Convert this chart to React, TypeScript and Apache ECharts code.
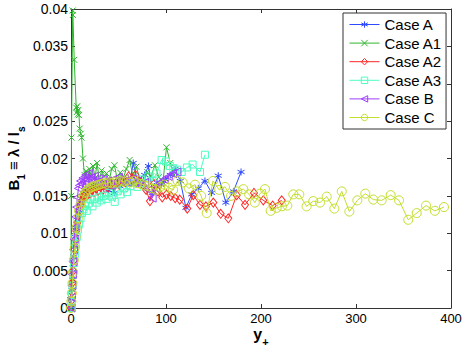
import React, { useEffect, useRef } from "react";
import * as echarts from "echarts";

const xTicks = [0, 100, 200, 300, 400];
const yTickStep = 0.005;

const caseAX = [0, 0.5, 1, 1.6, 2.3, 3, 3.8, 4.6, 5.5, 6.5, 7.5, 8.6, 9.8, 11, 12.5, 14, 15.6, 17.3, 19, 21, 23, 25, 27.2, 29.5, 32, 34.5, 37, 39.7, 42.5, 45.5, 48.5, 51.5, 55, 58.5, 62, 65.5, 69.5, 73.5, 77.5, 81.5, 86, 90.5, 95, 99.5, 104.5, 109.5, 115, 121, 127, 134, 141, 148, 155, 163, 171, 179];
const caseAY = [0, 0.0012, 0.0024, 0.0038, 0.0054, 0.0069, 0.0083, 0.0095, 0.0107, 0.0118, 0.0127, 0.0134, 0.0141, 0.0146, 0.015, 0.0154, 0.0158, 0.0155, 0.0161, 0.0158, 0.0164, 0.016, 0.0166, 0.0162, 0.0167, 0.016, 0.0165, 0.0157, 0.0168, 0.0154, 0.017, 0.0163, 0.0172, 0.0166, 0.0168, 0.0194, 0.0172, 0.0165, 0.0178, 0.019, 0.0154, 0.0168, 0.0165, 0.0172, 0.0178, 0.0186, 0.017, 0.0134, 0.0152, 0.016, 0.017, 0.0154, 0.0177, 0.0141, 0.0156, 0.0182];

const caseA1X = [0, 0.2, 0.5, 1.8, 2.0, 3.4, 5.5, 6.0, 6.6, 7.2, 7.8, 8.4, 9.2, 10.2, 11.2, 12.6, 14.2, 15.8, 17.5, 19.3, 21.2, 23.2, 25.3, 27.5, 29.8, 32.2, 34.7, 37.3, 40, 42.8, 45.7, 48.7, 51.8, 55, 58.3, 61.7, 65.2, 68.8, 72.5, 76.3, 80.2, 84.2, 88.3, 92.5, 96.8, 100.5, 104.5, 108.5];
const caseA1Y = [0, 0.015, 0.0228, 0.0398, 0.0392, 0.0332, 0.0268, 0.0262, 0.027, 0.0259, 0.0265, 0.0258, 0.024, 0.0233, 0.0228, 0.02, 0.0178, 0.0183, 0.0172, 0.0186, 0.0176, 0.019, 0.0174, 0.0194, 0.017, 0.0184, 0.0176, 0.018, 0.017, 0.0186, 0.0191, 0.0172, 0.0181, 0.0174, 0.0186, 0.0198, 0.0176, 0.0189, 0.0172, 0.0168, 0.0182, 0.0176, 0.0191, 0.0175, 0.0168, 0.0215, 0.0194, 0.0178];

const caseA2X = [0, 0.5, 1, 1.6, 2.3, 3, 3.8, 4.7, 5.6, 6.6, 7.7, 8.9, 10.2, 11.6, 13.1, 14.7, 16.4, 18.2, 20.1, 22.1, 24.2, 26.4, 28.7, 31.1, 33.6, 36.2, 38.9, 41.7, 44.6, 47.6, 50.7, 53.9, 57.2, 60.6, 64.1, 67.7, 71.4, 75.2, 79.1, 83.1, 87.2, 91.5, 96, 100.5, 105, 109.7, 114.5, 122.4, 128.7, 135.8, 142, 149.8, 157.6, 165.6, 174.4, 183.2, 192.6, 202.4, 212.3, 221.8];
const caseA2Y = [0, 0.001, 0.0021, 0.0034, 0.005, 0.0064, 0.0078, 0.0091, 0.0103, 0.0114, 0.0123, 0.0131, 0.0138, 0.0144, 0.0148, 0.0152, 0.015, 0.0156, 0.0153, 0.0158, 0.0155, 0.016, 0.0157, 0.0162, 0.0158, 0.0164, 0.0161, 0.0166, 0.0163, 0.0167, 0.0165, 0.017, 0.0168, 0.0176, 0.0172, 0.0178, 0.017, 0.0165, 0.0158, 0.0143, 0.0166, 0.0156, 0.0148, 0.0152, 0.015, 0.0147, 0.0145, 0.0133, 0.0151, 0.0138, 0.0136, 0.0141, 0.0126, 0.012, 0.0151, 0.0138, 0.0154, 0.0144, 0.0137, 0.0144];

const caseA3X = [0, 0.5, 1, 1.6, 2.3, 3.1, 4, 5, 6.1, 7.3, 8.6, 10, 11.5, 13.1, 14.8, 16.6, 18.5, 20.5, 22.6, 24.8, 27.1, 29.5, 32, 34.6, 37.3, 40.1, 43, 46, 49.1, 52.3, 55.6, 59, 62.5, 66.1, 69.8, 73.6, 77.5, 81.5, 85.6, 90, 95.4, 100, 104, 107.7, 112, 116.5, 122, 128, 135.8, 141];
const caseA3Y = [0, 0.0008, 0.0018, 0.003, 0.0045, 0.006, 0.0072, 0.0085, 0.0095, 0.0105, 0.0112, 0.012, 0.0127, 0.0132, 0.0137, 0.013, 0.014, 0.0145, 0.0136, 0.0146, 0.0141, 0.0148, 0.0144, 0.015, 0.0146, 0.0154, 0.0149, 0.0142, 0.0156, 0.0152, 0.016, 0.0155, 0.0163, 0.0168, 0.0162, 0.0172, 0.0167, 0.0176, 0.017, 0.018, 0.0198, 0.0196, 0.019, 0.0187, 0.0185, 0.0182, 0.0188, 0.0192, 0.0182, 0.0205];

const caseBX = [0, 0.4, 0.9, 1.4, 2, 2.7, 3.4, 4.2, 5, 5.9, 6.8, 7.8, 8.9, 10, 11.2, 12.5, 13.9, 15.4, 17, 18.7, 20.5, 22.4, 24.4, 26.5, 28.7, 31, 33.4, 35.9, 38.5, 41.2, 44, 46.9, 49.9, 53, 56.2, 59.5, 62.9, 66.4, 70, 73.7, 77.5, 81.4, 85.4, 89.5, 93.7, 98, 102.4, 106.9, 111.5];
const caseBY = [0, 0.0014, 0.003, 0.0045, 0.0062, 0.0078, 0.0092, 0.0108, 0.0122, 0.0135, 0.0148, 0.016, 0.0164, 0.017, 0.0166, 0.0174, 0.017, 0.0178, 0.0172, 0.018, 0.0174, 0.017, 0.0176, 0.0168, 0.0173, 0.0166, 0.0172, 0.0167, 0.017, 0.0164, 0.0172, 0.0168, 0.0175, 0.017, 0.0173, 0.0168, 0.0172, 0.0167, 0.017, 0.0164, 0.0168, 0.0158, 0.0147, 0.016, 0.0168, 0.0172, 0.0176, 0.018, 0.0182];

const caseCX = [0, 0.4, 0.9, 1.5, 2.2, 3, 3.9, 4.9, 6, 7.2, 8.5, 9.9, 11.4, 13, 14.7, 16.5, 18.4, 20.4, 22.5, 24.7, 27, 29.4, 31.9, 34.5, 37.2, 40, 42.9, 45.9, 49, 52.2, 55.5, 58.9, 62.4, 66, 69.7, 73.5, 77.4, 81.4, 85.5, 89.7, 94, 98.4, 102.9, 107.5, 112.2, 117.6, 124, 130.5, 137, 142.8, 149.5, 156, 162.1, 168.5, 175, 181.4, 187.5, 193.5, 199, 204.2, 210.2, 216.5, 222, 227.7, 234, 240.3, 248, 255, 262.1, 269.2, 277.2, 285, 293, 301.4, 309.8, 318.2, 327, 336.5, 345.3, 355, 363.9, 373.7, 383, 392.6];
const caseCY = [0, 0.0009, 0.002, 0.0033, 0.0048, 0.0064, 0.008, 0.0095, 0.0108, 0.012, 0.013, 0.0138, 0.0145, 0.015, 0.0154, 0.0157, 0.0159, 0.0161, 0.0162, 0.0163, 0.0164, 0.0165, 0.0166, 0.0167, 0.0166, 0.0168, 0.0167, 0.0169, 0.0168, 0.017, 0.0169, 0.0171, 0.0168, 0.017, 0.0167, 0.0166, 0.0164, 0.0163, 0.016, 0.0158, 0.0162, 0.0165, 0.0161, 0.0158, 0.017, 0.0168, 0.016, 0.0165, 0.015, 0.0127, 0.017, 0.0158, 0.0162, 0.015, 0.0156, 0.0159, 0.0152, 0.0141, 0.0153, 0.0159, 0.013, 0.0134, 0.0136, 0.0137, 0.0152, 0.0152, 0.0136, 0.0143, 0.0141, 0.0149, 0.0133, 0.0156, 0.0129, 0.0144, 0.0153, 0.0145, 0.0144, 0.0151, 0.0144, 0.0118, 0.0127, 0.0137, 0.013, 0.0135];

const seriesNames = ["Case A", "Case A1", "Case A2", "Case A3", "Case B", "Case C"];
const seriesColors = ["#2f4bff", "#2fb52f", "#ff2626", "#4dffc0", "#9f3dff", "#c3df2a"];

const STAR = "path://M5,0L5,10M0.7,2.5L9.3,7.5M0.7,7.5L9.3,2.5";
const CROSS = "path://M0,0L10,10M10,0L0,10";

const FONT = "Liberation Sans, Arial, Helvetica, sans-serif";
const CLEAR = "rgba(255,255,255,0)";

function zip(xs: number[], ys: number[]) {
  const n = Math.min(xs.length, ys.length);
  const out: number[][] = [];
  for (let i = 0; i < n; i++) out.push([xs[i], ys[i]]);
  return out;
}

export default function App() {
  const ref = useRef<HTMLDivElement>(null);
  useEffect(() => {
    if (!ref.current) return;
    const chart = echarts.init(ref.current, undefined, { renderer: "svg" });
    const datasets = [
      zip(caseAX, caseAY),
      zip(caseA1X, caseA1Y),
      zip(caseA2X, caseA2Y),
      zip(caseA3X, caseA3Y),
      zip(caseBX, caseBY),
      zip(caseCX, caseCY),
    ];
    const symbols: any[] = [STAR, CROSS, "diamond", "rect", "triangle", "circle"];
    const sizes: any[] = [7, 6, [7, 9], 7, [8, 8], 9];
    const rotates = [0, 0, 0, 0, 90, 0];
    const axisCommon = {
      type: "value" as const,
      axisLine: { show: true, onZero: false, lineStyle: { color: "#333", width: 1 } },
      axisTick: { show: true, inside: true, length: 4, lineStyle: { color: "#333" } },
      splitLine: { show: false },
    };
    const yRich = {
      b: { fontFamily: FONT, fontSize: 15, fontWeight: "bold", color: "#000", verticalAlign: "top", lineHeight: 16 },
      s: { fontFamily: FONT, fontSize: 10, fontWeight: "bold", color: "#000", verticalAlign: "bottom", lineHeight: 20 },
    };
    const xRich = {
      b: { fontFamily: FONT, fontSize: 16, fontWeight: "bold", color: "#000", verticalAlign: "top", lineHeight: 17 },
      s: { fontFamily: FONT, fontSize: 11, fontWeight: "bold", color: "#000", verticalAlign: "bottom", lineHeight: 21 },
    };
    const series: any[] = [];
    seriesNames.forEach((name, i) => {
      series.push({
        name,
        type: "line",
        data: datasets[i],
        symbol: symbols[i],
        symbolSize: sizes[i],
        symbolRotate: rotates[i],
        showSymbol: false,
        lineStyle: { color: seriesColors[i], width: 1 },
        itemStyle: { color: seriesColors[i] },
        emphasis: { disabled: true },
        z: 2 + i,
      });
      series.push({
        name,
        type: "scatter",
        data: datasets[i],
        symbol: symbols[i],
        symbolSize: sizes[i],
        symbolRotate: rotates[i],
        itemStyle: { color: CLEAR, borderColor: seriesColors[i], borderWidth: 1, opacity: 1 },
        emphasis: { disabled: true },
        z: 2 + i,
      });
    });
    chart.setOption({
      animation: false,
      backgroundColor: "#fff",
      grid: { left: 71, right: 12, top: 9, bottom: 41, containLabel: false, outerBoundsMode: "none" } as any,
      legend: {
        orient: "vertical",
        left: 343,
        top: 13,
        padding: [4, 4, 4, 6],
        itemGap: 3.6,
        itemWidth: 30,
        itemHeight: 8,
        backgroundColor: "#fff",
        borderColor: "#333",
        borderWidth: 1,
        borderRadius: 0,
        textStyle: { fontFamily: FONT, fontSize: 15, color: "#000", lineHeight: 15 },
        data: seriesNames.map((name, i) => ({
          name,
          itemStyle: { color: CLEAR, borderColor: seriesColors[i], borderWidth: 1 },
          lineStyle: { color: seriesColors[i], width: 1 },
        })),
      },
      xAxis: [
        {
          ...axisCommon,
          position: "bottom",
          min: xTicks[0],
          max: xTicks[xTicks.length - 1],
          interval: 100,
          axisLabel: { show: true, margin: 4, fontFamily: FONT, fontSize: 13, lineHeight: 13, color: "#000" },
          name: "{b|y}{s|+}",
          nameLocation: "middle",
          nameGap: 18,
          nameMoveOverlap: false,
          nameTextStyle: { rich: xRich },
        },
        {
          ...axisCommon,
          position: "top",
          min: xTicks[0],
          max: xTicks[xTicks.length - 1],
          interval: 100,
          axisLabel: { show: false },
        },
      ],
      yAxis: [
        {
          ...axisCommon,
          position: "left",
          min: 0,
          max: 0.04,
          interval: yTickStep,
          axisLabel: {
            show: true,
            margin: 3,
            fontFamily: FONT,
            fontSize: 14,
            color: "#000",
            formatter: (v: number) => String(+v.toFixed(3)),
          },
          name: "{b|B}{s|1}{b| ≡ λ / l}{s|s}",
          nameLocation: "middle",
          nameGap: 45,
          nameMoveOverlap: false,
          nameTextStyle: { rich: yRich },
        },
        {
          ...axisCommon,
          position: "right",
          min: 0,
          max: 0.04,
          interval: yTickStep,
          axisLabel: { show: false },
        },
      ],
      series,
    } as any);
    return () => chart.dispose();
  }, []);
  return <div ref={ref} style={{ position: "fixed", left: 0, top: 0, width: 463, height: 349 }} />;
}
